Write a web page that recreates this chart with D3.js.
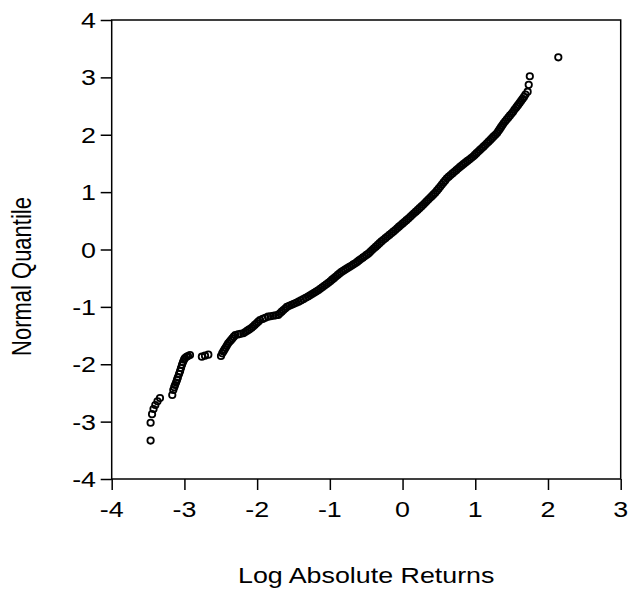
<!DOCTYPE html>
<html>
<head>
<meta charset="utf-8">
<script src="https://cdn.jsdelivr.net/npm/d3@7"></script>
<style>
  body { margin: 0; background: #fff; }
  text { font-family: "Liberation Sans", Arial, sans-serif; fill: #000; }
</style>
</head>
<body>
<div id="draw"></div>
<script>
// tick values
var xTicks = [-4, -3, -2, -1, 0, 1, 2, 3];
var yTicks = [-4, -3, -2, -1, 0, 1, 2, 3, 4];

// [log absolute return, normal quantile]
var tailLow = [[-3.465,-3.33],[-3.465,-3.02],[-3.445,-2.87],[-3.425,-2.78],[-3.40,-2.71],[-3.37,-2.645],[-3.336,-2.59]];
var clusterA = [[-3.167,-2.536],[-3.153,-2.449],[-3.14,-2.40],[-3.129,-2.362],[-3.115,-2.32],[-3.102,-2.274],[-3.09,-2.23],
  [-3.074,-2.17],[-3.06,-2.12],[-3.047,-2.065],[-3.033,-2.01],[-3.019,-1.961],[-3.005,-1.92],[-2.992,-1.891],
  [-2.97,-1.87],[-2.951,-1.856],[-2.923,-1.839]];
var clusterB = [[-2.76,-1.868],[-2.717,-1.851],[-2.671,-1.833]];
var mainCurve = [
  [-2.497,-1.856],[-2.48,-1.81],[-2.464,-1.776],[-2.448,-1.742],[-2.432,-1.708],[-2.416,-1.674],[-2.40,-1.64],
  [-2.38,-1.61],[-2.36,-1.58],[-2.34,-1.55],[-2.32,-1.52],[-2.30,-1.49],
  [-2.263,-1.48],[-2.227,-1.47],[-2.19,-1.46],
  [-2.163,-1.438],[-2.135,-1.415],[-2.108,-1.393],[-2.08,-1.37],
  [-2.056,-1.342],[-2.032,-1.314],[-2.008,-1.286],[-1.984,-1.258],[-1.96,-1.23],
  [-1.923,-1.21],[-1.887,-1.19],[-1.85,-1.17],
  [-1.815,-1.163],[-1.78,-1.155],[-1.745,-1.148],[-1.71,-1.14],
  [-1.686,-1.112],[-1.662,-1.084],[-1.638,-1.056],[-1.614,-1.028],[-1.59,-1.00],
  [-1.558,-0.982],[-1.526,-0.964],[-1.494,-0.946],[-1.462,-0.928],[-1.43,-0.91],
  [-1.398,-0.888],[-1.365,-0.865],[-1.333,-0.843],[-1.30,-0.82],
  [-1.272,-0.798],[-1.244,-0.776],[-1.216,-0.754],[-1.188,-0.732],[-1.16,-0.71],
  [-1.132,-0.684],[-1.104,-0.658],[-1.076,-0.632],[-1.048,-0.606],[-1.02,-0.58],
  [-0.994,-0.553],[-0.969,-0.526],[-0.943,-0.499],[-0.917,-0.471],[-0.891,-0.444],[-0.866,-0.417],[-0.84,-0.39],
  [-0.813,-0.369],[-0.786,-0.347],[-0.759,-0.326],[-0.731,-0.304],[-0.704,-0.283],[-0.677,-0.261],[-0.65,-0.24],
  [-0.624,-0.216],[-0.599,-0.191],[-0.573,-0.167],[-0.547,-0.143],[-0.521,-0.119],[-0.496,-0.094],[-0.47,-0.07],
  [-0.444,-0.04],[-0.419,-0.01],[-0.393,0.02],[-0.367,0.05],[-0.341,0.08],[-0.316,0.11],[-0.29,0.14],
  [-0.263,0.169],[-0.236,0.197],[-0.209,0.226],[-0.181,0.254],[-0.154,0.283],[-0.127,0.311],[-0.10,0.34],
  [-0.074,0.369],[-0.049,0.397],[-0.023,0.426],[0.003,0.454],[0.029,0.483],[0.054,0.511],[0.08,0.54],
  [0.106,0.57],[0.131,0.60],[0.157,0.63],[0.183,0.66],[0.209,0.69],[0.234,0.72],[0.26,0.75],
  [0.284,0.78],[0.308,0.81],[0.331,0.84],[0.355,0.87],[0.379,0.90],[0.403,0.93],[0.426,0.96],[0.45,0.99],
  [0.473,1.026],[0.496,1.061],[0.519,1.097],[0.541,1.133],[0.564,1.169],[0.587,1.204],[0.61,1.24],
  [0.636,1.269],[0.661,1.297],[0.687,1.326],[0.713,1.354],[0.739,1.383],[0.764,1.411],[0.79,1.44],
  [0.816,1.466],[0.841,1.491],[0.867,1.517],[0.893,1.543],[0.919,1.569],[0.944,1.594],[0.97,1.62],
  [0.994,1.649],[1.018,1.678],[1.041,1.706],[1.065,1.735],[1.089,1.764],[1.113,1.793],[1.136,1.821],[1.16,1.85],
  [1.183,1.88],[1.207,1.91],[1.23,1.94],[1.253,1.97],[1.277,2.00],[1.30,2.03],
  [1.318,2.064],[1.336,2.098],[1.354,2.132],[1.372,2.166],[1.39,2.20],
  [1.412,2.234],[1.434,2.268],[1.456,2.302],[1.478,2.336],[1.50,2.37]
];
var tailHigh = [[1.52,2.40],[1.54,2.44],[1.56,2.47],[1.575,2.495],[1.59,2.52],[1.61,2.555],[1.63,2.59],
  [1.65,2.625],[1.67,2.66],[1.69,2.70],[1.72,2.75],[1.735,2.87],[1.75,3.02],[2.142,3.35]];

var W = 631, H = 594;
var pLeft = 111.7, pRight = 620.7, pTop = 20, pBottom = 479;
var fs = 22;   // font size
var sx = 1.22; // glyphs in the picture are stretched sideways

var x = d3.scaleLinear().domain([-4, 3]).range([pLeft, pRight]);
var y = d3.scaleLinear().domain([-4, 4]).range([pBottom, pTop]);

var svg = d3.select('#draw').append('svg')
  .attr('width', W).attr('height', H);

svg.append('rect').attr('width', W).attr('height', H).attr('fill', '#fff');

// frame
svg.append('rect')
  .attr('x', pLeft).attr('y', pTop)
  .attr('width', pRight - pLeft).attr('height', pBottom - pTop)
  .attr('fill', 'none').attr('stroke', '#000').attr('stroke-width', 1.5);

// axes (lines + ticks only, labels drawn below)
svg.append('g').attr('transform', 'translate(0,' + pBottom + ')')
  .call(d3.axisBottom(x).tickValues(xTicks).tickSize(11).tickFormat(''));
svg.append('g').attr('transform', 'translate(' + pLeft + ',0)')
  .call(d3.axisLeft(y).tickValues(yTicks).tickSize(11).tickFormat(''));
svg.selectAll('.domain').remove();
svg.selectAll('.tick line').attr('stroke', '#000').attr('stroke-width', 1.5);

svg.selectAll('.xlab').data(xTicks).enter().append('text')
  .attr('class', 'xlab')
  .attr('transform', function(d) { return 'translate(' + x(d) + ',517) scale(' + sx + ',1)'; })
  .attr('text-anchor', 'middle')
  .attr('font-size', fs)
  .text(function(d) { return String(d); });

svg.selectAll('.ylab').data(yTicks).enter().append('text')
  .attr('class', 'ylab')
  .attr('transform', function(d) { return 'translate(96,' + (y(d) + 8) + ') scale(' + sx + ',1)'; })
  .attr('text-anchor', 'end')
  .attr('font-size', fs)
  .text(function(d) { return String(d); });

// axis titles
svg.append('text')
  .attr('transform', 'translate(' + ((pLeft + pRight) / 2) + ',583) scale(' + sx + ',1)')
  .attr('text-anchor', 'middle')
  .attr('font-size', fs)
  .text('Log Absolute Returns');

svg.append('text')
  .attr('transform', 'translate(31,' + ((pTop + pBottom) / 2 + 27) + ') scale(' + sx + ',1) rotate(-90)')
  .attr('text-anchor', 'middle')
  .attr('font-size', fs)
  .text('Normal Quantile');

// points
var pts = [].concat(tailLow, clusterA, clusterB, mainCurve, tailHigh);
svg.append('g').selectAll('circle').data(pts).enter().append('circle')
  .attr('cx', function(d) { return x(d[0]); })
  .attr('cy', function(d) { return y(d[1]); })
  .attr('r', 3.2)
  .attr('fill', 'none')
  .attr('stroke', '#000')
  .attr('stroke-width', 1.8);
</script>
</body>
</html>
